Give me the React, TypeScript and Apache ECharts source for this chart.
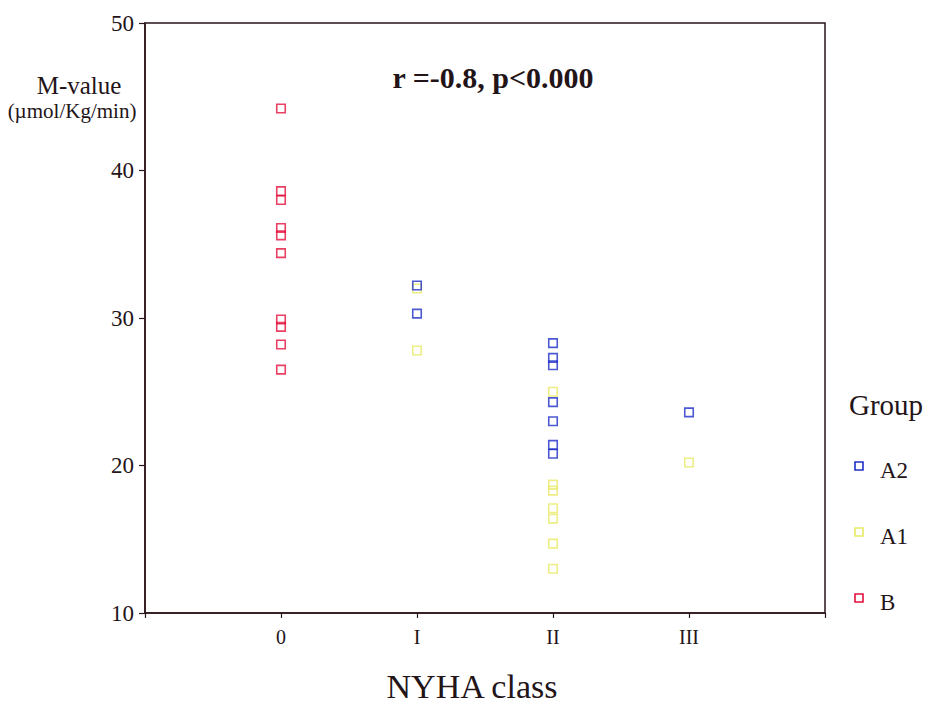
import React, { useEffect, useRef } from "react";
import * as echarts from "echarts";

// NYHA functional classes along the x axis
const nyhaClasses = ["0", "I", "II", "III"];

// M-value (µmol/Kg/min) per subject, paired with the NYHA class
const groupA2: [string, number][] = [
  ["I", 32.2], ["I", 30.3],
  ["II", 28.3], ["II", 27.3], ["II", 26.8], ["II", 24.3], ["II", 23.0], ["II", 21.4], ["II", 20.8],
  ["III", 23.6],
];
const groupA1: [string, number][] = [
  ["I", 32.0], ["I", 27.8],
  ["II", 25.0], ["II", 18.7], ["II", 18.3], ["II", 17.1], ["II", 16.4], ["II", 14.7], ["II", 13.0],
  ["III", 20.2],
];
const groupB: [string, number][] = [
  ["0", 44.2], ["0", 38.6], ["0", 38.0], ["0", 36.1], ["0", 35.6],
  ["0", 34.4], ["0", 29.9], ["0", 29.4], ["0", 28.2], ["0", 26.5],
];

const groupNames = ["A2", "A1", "B"];
const groupColors = ["#1f2fc8", "#e8ea66", "#e3103c"];
const yTicks = [10, 20, 30, 40, 50];

const SERIF = "'Liberation Serif', 'Times New Roman', serif";
const INK = "#231418";
const AXIS = "#2b1419";

const toPoints = (rows: [string, number][]) =>
  rows.map(([cls, v]) => [nyhaClasses.indexOf(cls) + 1, v]);

export default function App() {
  const ref = useRef<HTMLDivElement>(null);

  useEffect(() => {
    if (!ref.current) return;
    const chart = echarts.init(ref.current, null, { renderer: "svg" });
    const groups = [groupA2, groupA1, groupB];

    const legendItems: any[] = [];
    const legendTop = 466;
    const legendStep = 66;
    groupNames.forEach((name, i) => {
      const cy = legendTop + i * legendStep;
      legendItems.push({
        type: "rect",
        shape: { x: 855, y: cy - 4, width: 8, height: 8 },
        style: { fill: "rgba(0,0,0,0)", stroke: groupColors[i], lineWidth: 1.6 },
      });
      legendItems.push({
        type: "text",
        x: 880,
        y: cy + 4,
        style: {
          text: name,
          font: `23px ${SERIF}`,
          fill: INK,
          textVerticalAlign: "middle",
        },
      });
    });

    chart.setOption({
      animation: false,
      backgroundColor: "#ffffff",
      grid: {
        left: 145,
        top: 23,
        width: 680,
        height: 590,
        show: true,
        borderColor: AXIS,
        borderWidth: 1.5,
        backgroundColor: "transparent",
      },
      xAxis: {
        type: "value",
        min: 0,
        max: 5,
        interval: 1,
        splitLine: { show: false },
        axisLine: { show: true, lineStyle: { color: AXIS, width: 1.5 } },
        axisTick: { show: true, length: 5, lineStyle: { color: AXIS, width: 1.2 } },
        axisLabel: {
          margin: 14,
          fontFamily: SERIF,
          fontSize: 20,
          color: INK,
          showMinLabel: true,
          showMaxLabel: true,
          formatter: (v: number) => nyhaClasses[v - 1] ?? "",
        },
      },
      yAxis: {
        type: "value",
        min: yTicks[0],
        max: yTicks[yTicks.length - 1],
        interval: 10,
        splitLine: { show: false },
        axisLine: { show: true, lineStyle: { color: AXIS, width: 1.5 } },
        axisTick: { show: true, length: 6, lineStyle: { color: AXIS, width: 1.2 } },
        axisLabel: {
          margin: 11,
          fontFamily: SERIF,
          fontSize: 23,
          color: INK,
        },
      },
      series: groups.map((rows, i) => ({
        name: groupNames[i],
        type: "scatter",
        symbol: "rect",
        symbolSize: 8.5,
        data: toPoints(rows),
        itemStyle: {
          color: "rgba(0,0,0,0)",
          borderColor: groupColors[i],
          borderWidth: 1.6,
        },
        z: 3 - i,
      })),
      graphic: [
        {
          type: "text",
          x: 493,
          y: 77,
          style: {
            text: "r =-0.8, p<0.000",
            font: `bold 30px ${SERIF}`,
            fill: INK,
            textAlign: "center",
            textVerticalAlign: "middle",
          },
        },
        {
          type: "text",
          x: 79,
          y: 85,
          style: {
            text: "M-value",
            font: `25px ${SERIF}`,
            fill: INK,
            textAlign: "center",
            textVerticalAlign: "middle",
          },
        },
        {
          type: "text",
          x: 72,
          y: 111,
          style: {
            text: "(µmol/Kg/min)",
            font: `21px ${SERIF}`,
            fill: INK,
            textAlign: "center",
            textVerticalAlign: "middle",
          },
        },
        {
          type: "text",
          x: 472,
          y: 686,
          style: {
            text: "NYHA class",
            font: `34px ${SERIF}`,
            fill: INK,
            textAlign: "center",
            textVerticalAlign: "middle",
          },
        },
        {
          type: "text",
          x: 849,
          y: 405,
          style: {
            text: "Group",
            font: `29px ${SERIF}`,
            fill: INK,
            textVerticalAlign: "middle",
          },
        },
        ...legendItems,
      ],
    });

    return () => chart.dispose();
  }, []);

  return (
    <div
      ref={ref}
      style={{ position: "absolute", left: 0, top: 0, width: 932, height: 723 }}
    />
  );
}
